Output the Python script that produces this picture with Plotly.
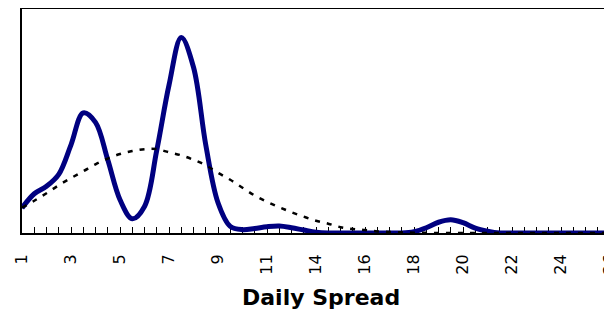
import plotly.graph_objects as go

# bin index along the category axis (0..49)
bins = list(range(50))

# labelled bins and their tick labels (daily spread)
tick_bins = [0, 4, 8, 12, 16, 20, 24, 28, 32, 36, 40, 44, 48]
tick_labels = ["1", "3", "5", "7", "9", "11", "14", "16", "18", "20", "22", "24", "26"]

# observed frequency (%) of daily spread
observed = [2.79, 4.38, 5.22, 6.55, 9.84, 13.41, 12.35, 8.17, 3.71, 1.59,
            2.96, 9.23, 16.50, 21.82, 18.50, 9.84, 3.38, 0.74, 0.37, 0.51,
            0.70, 0.78, 0.59, 0.33, 0.09, 0.0, 0.0, 0.0, 0.0, 0.0,
            0.0, 0.0, 0.15, 0.59, 1.20, 1.48, 1.15, 0.54, 0.20, 0.0,
            0.0, 0.0, 0.0, 0.0, 0.0, 0.0, 0.0, 0.0, 0.0, 0.0]

# fitted normal frequency (%)
fitted = [2.82, 3.60, 4.44, 5.33, 6.13, 6.89, 7.67, 8.31, 8.81, 9.15,
          9.36, 9.36, 9.01, 8.67, 8.17, 7.56, 6.72, 5.94, 5.05, 4.18,
          3.49, 2.88, 2.32, 1.82, 1.37, 1.04, 0.65, 0.45, 0.33, 0.18,
          0.11, 0.07, 0.04, 0.02, 0.01, 0.0, 0.0, 0.0, 0.0, 0.0,
          0.0, 0.0, 0.0, 0.0, 0.0, 0.0, 0.0, 0.0, 0.0, 0.0]

fig = go.Figure()
fig.add_trace(go.Scatter(
    x=bins, y=observed, mode="lines", cliponaxis=False,
    line=dict(color="#000080", width=5, shape="spline", smoothing=1.0),
    showlegend=False, hoverinfo="skip"))
fig.add_trace(go.Scatter(
    x=bins, y=fitted, mode="lines", cliponaxis=False,
    line=dict(color="#000000", width=2.5, dash="5px,7px", shape="spline", smoothing=1),
    showlegend=False, hoverinfo="skip"))

fig.update_layout(
    width=604, height=304,
    margin=dict(l=14, r=0, t=1, b=79, autoexpand=False),
    paper_bgcolor="white", plot_bgcolor="white",
    font=dict(family="DejaVu Sans", color="black"),
    xaxis=dict(
        range=[0, 48.16], showgrid=False, zeroline=False, automargin=False,
        showline=True, linecolor="black", linewidth=2, mirror=True,
        ticks="inside", ticklen=6, tickwidth=1, tickcolor="black",
        tickmode="array", tickvals=bins,
        ticktext=[tick_labels[tick_bins.index(b)] if b in tick_bins else "" for b in bins],
        tickangle=-90, tickfont=dict(size=16, family="DejaVu Sans"),
        ticklabelstandoff=13, ticklabeloverflow="allow", layer="below traces"),
    yaxis=dict(
        range=[0, 25], showgrid=False, zeroline=False, automargin=False,
        showline=True, linecolor="black", linewidth=2, mirror=False,
        showticklabels=False, ticks="", layer="below traces"),
    annotations=[dict(
        text="<b>Daily Spread</b>", xref="paper", yref="paper",
        x=0.507, y=-0.286, xanchor="center", yanchor="middle",
        showarrow=False, font=dict(size=22, family="DejaVu Sans", color="black"))],
)

fig.write_html("out.html")
